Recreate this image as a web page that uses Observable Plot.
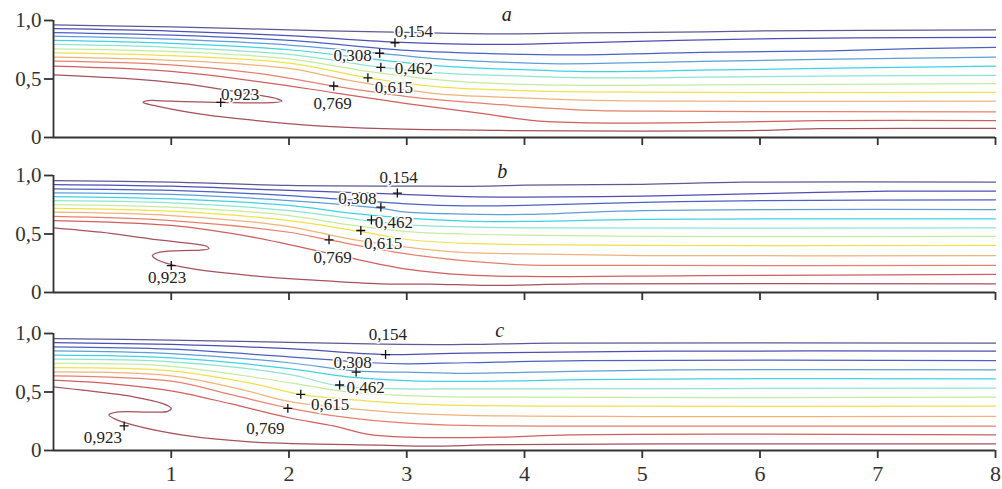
<!DOCTYPE html>
<html>
<head>
<meta charset="utf-8">
<script src="https://cdn.jsdelivr.net/npm/d3@7"></script>
<script src="https://cdn.jsdelivr.net/npm/@observablehq/plot@0.6"></script>
<style>
  html, body { margin: 0; padding: 0; background: #fff; }
  #chart { width: 1002px; }
  #chart svg { display: block; }
  #chart svg, #chart svg text { font-family: "Liberation Serif", "DejaVu Serif", serif !important; }
</style>
</head>
<body>
<div id="chart"></div>
<script>
// ---- data: streamline contours, [x, y] points per line (lines 1..12, top to bottom)
const levelColors = ["#5a5a94", "#4e4eb4", "#4a62c4", "#5e9ed6", "#3ed2e4", "#8ee4d0",
                     "#c4ec9c", "#f0e04c", "#f0b27a", "#e6806e", "#d25e5e", "#a8505c"];

const panelA = [
  [[0,0.963],[1,0.945],[2,0.92],[3,0.898],[3.8,0.886],[4.5,0.895],[5.3,0.9],[5.9,0.91],[8,0.92]],
  [[0,0.93],[1,0.91],[2,0.87],[2.9,0.815],[3.8,0.795],[4.7,0.815],[5.3,0.83],[6,0.843],[6.8,0.852],[8,0.855]],
  [[0,0.897],[1,0.875],[2,0.83],[3,0.745],[3.8,0.715],[4.4,0.707],[5.5,0.727],[6.6,0.74],[7.3,0.76],[8,0.77]],
  [[0,0.866],[1,0.84],[2,0.79],[2.77,0.72],[3.3,0.67],[3.8,0.644],[4.3,0.63],[5.5,0.65],[6.5,0.667],[8,0.686]],
  [[0,0.83],[1,0.805],[2,0.75],[2.8,0.66],[3.3,0.61],[3.8,0.587],[4.5,0.564],[5.5,0.575],[6.5,0.59],[8,0.61]],
  [[0,0.795],[1,0.77],[2,0.71],[2.78,0.6],[3.3,0.55],[3.8,0.53],[4.5,0.51],[5.5,0.515],[6.5,0.525],[8,0.53]],
  [[0,0.758],[1,0.735],[2,0.672],[2.7,0.56],[3.3,0.49],[3.8,0.46],[4.5,0.445],[5.5,0.45],[8,0.46]],
  [[0,0.724],[1,0.7],[2,0.635],[2.67,0.51],[3.3,0.43],[3.8,0.408],[4.5,0.39],[8,0.385]],
  [[0,0.687],[1,0.66],[2,0.59],[2.5,0.49],[3.2,0.38],[3.8,0.345],[4.5,0.32],[5.5,0.31],[8,0.31]],
  [[0,0.652],[1,0.62],[1.8,0.54],[2.38,0.44],[3,0.35],[3.8,0.28],[4.5,0.235],[5.1,0.225],[8,0.22]],
  [[0,0.609],[1,0.565],[1.8,0.47],[2.4,0.38],[3,0.29],[3.6,0.21],[4.2,0.135],[6,0.135],[6.5,0.145],[8,0.145]],
  [[0,0.536],[0.6,0.505],[1.1,0.46],[1.5,0.4],[1.75,0.36],[1.9,0.33],[1.94,0.31],[1.85,0.298],[1.42,0.3],[1.0,0.31],
   [0.8,0.315],[0.76,0.3],[0.85,0.275],[1.25,0.2],[1.67,0.15],[2.24,0.1],[2.8,0.075],[3.8,0.06],[5,0.055],[6,0.06],[6.5,0.075],[8,0.077]]
];

const panelB = [
  [[0,0.957],[1,0.943],[2,0.915],[3,0.909],[3.7,0.909],[4,0.918],[5,0.925],[5.86,0.943],[8,0.943]],
  [[0,0.923],[1,0.909],[2,0.872],[2.92,0.84],[3.5,0.82],[4,0.815],[5,0.823],[6,0.845],[7.1,0.866],[8,0.866]],
  [[0,0.886],[1,0.872],[2,0.829],[3,0.758],[3.5,0.74],[4,0.745],[5,0.77],[6,0.785],[8,0.792]],
  [[0,0.852],[1,0.838],[2,0.786],[2.78,0.72],[3,0.686],[3.5,0.67],[4,0.667],[5,0.7],[8,0.709]],
  [[0,0.82],[1,0.8],[2,0.744],[2.5,0.68],[3,0.635],[3.5,0.61],[4,0.607],[5,0.625],[8,0.63]],
  [[0,0.786],[1,0.767],[2,0.7],[2.7,0.61],[3,0.579],[3.5,0.56],[4,0.553],[8,0.553]],
  [[0,0.752],[1,0.729],[2,0.658],[2.5,0.58],[3,0.521],[3.5,0.5],[4,0.49],[5,0.479],[8,0.479]],
  [[0,0.72],[1,0.695],[2,0.615],[2.61,0.52],[3,0.453],[3.5,0.42],[4,0.41],[5,0.402],[8,0.402]],
  [[0,0.686],[1,0.658],[2,0.564],[2.5,0.46],[3,0.387],[3.5,0.34],[4,0.33],[5,0.316],[8,0.316]],
  [[0,0.65],[1,0.615],[2,0.515],[2.34,0.45],[3,0.33],[3.5,0.27],[4,0.237],[5,0.231],[8,0.231]],
  [[0,0.615],[1,0.573],[1.6,0.49],[2,0.41],[2.5,0.3],[3,0.2],[3.5,0.15],[4,0.137],[5.5,0.145],[8,0.154]],
  [[0,0.553],[0.4,0.515],[0.82,0.459],[1.19,0.416],[1.3,0.395],[1.32,0.375],[1.25,0.362],[1.16,0.359],[0.905,0.345],
   [0.84,0.315],[0.88,0.28],[1.1,0.216],[1.67,0.145],[2.24,0.103],[2.78,0.074],[3.2,0.072],[3.7,0.06],[4.5,0.074],[8,0.074]]
];

const panelC = [
  [[0,0.957],[1,0.943],[2,0.925],[2.8,0.91],[3.5,0.906],[4.25,0.917],[8,0.917]],
  [[0,0.923],[1,0.906],[2,0.87],[2.82,0.82],[3.5,0.832],[5.2,0.849],[8,0.849]],
  [[0,0.886],[1,0.866],[2,0.8],[2.7,0.75],[3,0.741],[3.5,0.75],[4.5,0.769],[8,0.769]],
  [[0,0.852],[1,0.829],[2,0.75],[2.57,0.678],[3,0.67],[3.5,0.66],[4.3,0.675],[5.3,0.69],[8,0.69]],
  [[0,0.815],[1,0.792],[2,0.7],[2.5,0.63],[3,0.598],[3.5,0.59],[4.5,0.605],[5.5,0.613],[8,0.613]],
  [[0,0.78],[1,0.758],[2,0.65],[2.42,0.553],[3,0.527],[3.5,0.527],[8,0.533]],
  [[0,0.744],[1,0.72],[2,0.58],[2.5,0.5],[3,0.47],[3.5,0.456],[8,0.456]],
  [[0,0.709],[1,0.681],[1.7,0.57],[2.09,0.48],[2.6,0.43],[3,0.4],[3.5,0.385],[4.5,0.379],[8,0.379]],
  [[0,0.672],[1,0.638],[1.6,0.52],[2,0.42],[2.5,0.36],[3,0.319],[3.5,0.3],[5,0.29],[8,0.291]],
  [[0,0.638],[1,0.592],[1.5,0.48],[1.99,0.365],[2.5,0.28],[3,0.234],[3.5,0.214],[5,0.208],[8,0.208]],
  [[0,0.601],[0.5,0.57],[1,0.51],[1.5,0.4],[2,0.28],[2.38,0.21],[2.66,0.14],[3,0.114],[3.8,0.114],[4.4,0.134],[8,0.134]],
  [[0,0.544],[0.25,0.515],[0.68,0.459],[0.93,0.4],[1.0,0.36],[0.97,0.335],[0.82,0.328],[0.54,0.328],
   [0.47,0.305],[0.52,0.27],[0.68,0.216],[1.1,0.131],[1.67,0.074],[2.78,0.045],[3.2,0.037],[3.8,0.05],[6,0.057],[8,0.057]]
];

// labelled contour levels, "+" markers and text positions
const levelLabels = ["0,154", "0,308", "0,462", "0,615", "0,769", "0,923"];
const markersA = [[2.90,0.81],[2.77,0.72],[2.78,0.60],[2.67,0.51],[2.38,0.44],[1.42,0.30]];
const markersB = [[2.92,0.85],[2.78,0.73],[2.70,0.62],[2.61,0.53],[2.34,0.45],[1.0,0.23]];
const markersC = [[2.82,0.82],[2.57,0.67],[2.43,0.56],[2.10,0.48],[1.99,0.36],[0.60,0.21]];
const textA = [[3.06,0.906],[2.54,0.70],[3.06,0.59],[2.89,0.427],[2.37,0.29],[1.585,0.367]];
const textB = [[2.93,0.983],[2.58,0.803],[2.89,0.598],[2.80,0.419],[2.37,0.30],[0.965,0.128]];
const textC = [[2.84,0.99],[2.54,0.752],[2.65,0.538],[2.35,0.393],[1.80,0.188],[0.42,0.111]];

const panelLetters = ["a", "b", "c"];
const letterPos = [[3.85,1.05],[3.81,1.03],[3.79,1.026]];

const xTicks = [1, 2, 3, 4, 5, 6, 7, 8];
const yTicks = [0, 0.5, 1];
const yTickLabels = ["0", "0,5", "1,0"];

// ---- drawing
const serif = "'Liberation Serif', 'DejaVu Serif', serif";
function panel(lines, markers, texts, letter, lpos, showX, height, mt, mb) {
  const marks = [];
  lines.forEach((pts, i) => {
    marks.push(Plot.line(pts, {x: d => d[0], y: d => d[1], stroke: levelColors[i],
      strokeWidth: 1.25, curve: "catmull-rom"}));
  });
  marks.push(Plot.text(levelLabels.map((t, i) => ({t, x: texts[i][0], y: texts[i][1]})), {
    x: "x", y: "y", text: "t", fontSize: 17, fill: "#222", stroke: "white", strokeWidth: 3,
    fontFamily: serif
  }));
  marks.push(Plot.dot(markers, {x: d => d[0], y: d => d[1], symbol: "plus", r: 3,
    stroke: "#111", strokeWidth: 1.3}));
  marks.push(Plot.text([letter], {x: () => lpos[0], y: () => lpos[1], text: d => d,
    fontSize: 20, fontStyle: "italic", fill: "#222", fontFamily: serif}));
  marks.push(Plot.ruleX([0], {y1: 0, y2: 1, stroke: "#333", strokeWidth: 1.8}));
  marks.push(Plot.ruleY([0], {x1: 0, x2: 8, stroke: "#333", strokeWidth: 1.8}));
  marks.push(Plot.axisY({ticks: yTicks, tickFormat: d => yTickLabels[yTicks.indexOf(d)],
    tickSize: 9, tickPadding: 3, fontSize: 21, strokeWidth: 1.8, label: null, fontFamily: serif}));
  marks.push(Plot.axisX({ticks: xTicks, tickFormat: showX ? d => String(d) : () => "",
    tickSize: 8, tickPadding: 7, fontSize: 22, strokeWidth: 1.8, label: null, fontFamily: serif}));
  return Plot.plot({
    width: 1002, height, marginLeft: 53, marginRight: 7, marginTop: mt, marginBottom: mb,
    x: {domain: [0, 8]}, y: {domain: [0, 1]},
    style: {fontFamily: serif, color: "#333", background: "white", overflow: "visible"},
    marks
  });
}

const root = document.getElementById("chart");
root.append(panel(panelA, markersA, textA, panelLetters[0], letterPos[0], false, 156, 20, 19));
root.append(panel(panelB, markersB, textB, panelLetters[1], letterPos[1], false, 157, 19, 21));
root.append(panel(panelC, markersC, textC, panelLetters[2], letterPos[2], true, 176, 20, 39));
</script>
</body>
</html>
